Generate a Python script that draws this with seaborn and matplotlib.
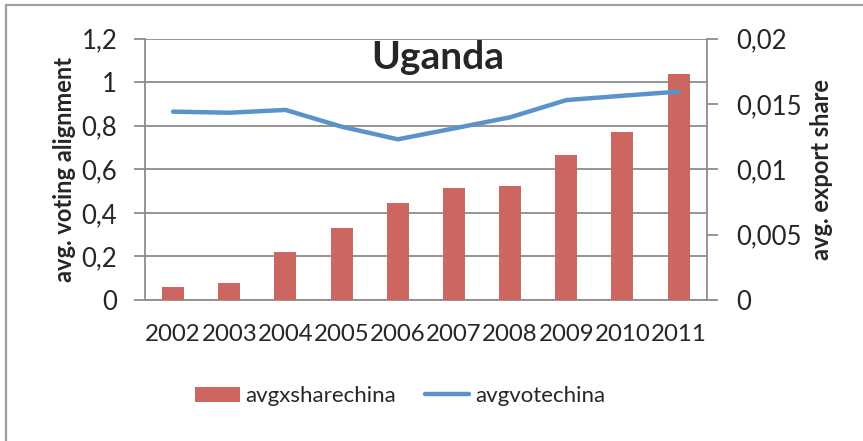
import numpy as np
import pandas as pd
import matplotlib
matplotlib.use("Agg")
import matplotlib.pyplot as plt
import seaborn as sns
from matplotlib.patches import Patch
from matplotlib.lines import Line2D

# values
years = ["2002", "2003", "2004", "2005", "2006", "2007", "2008", "2009", "2010", "2011"]
avgxsharechina = [0.00102, 0.0013, 0.00365, 0.00551, 0.00745, 0.0086, 0.00875, 0.01107, 0.01283, 0.01732]
avgvotechina = [0.865, 0.860, 0.873, 0.796, 0.738, 0.788, 0.839, 0.918, 0.938, 0.957]

left_ticks = [0, 0.2, 0.4, 0.6, 0.8, 1, 1.2]
right_ticks = [0, 0.005, 0.01, 0.015, 0.02]

bar_color = "#CC6660"
line_color = "#5A93CC"
grid_color = "#8C8C8C"

sns.set_style("white")
plt.rcParams["font.family"] = ["Lato", "DejaVu Sans"]

df = pd.DataFrame({"year": years, "xshare": avgxsharechina, "vote": avgvotechina})
df["pos"] = np.arange(len(years))

fig = plt.figure(figsize=(8.63, 4.41), dpi=100)
ax = fig.add_axes([145 / 863, 1 - 300 / 441, (706.7 - 145) / 863, (300 - 38.7) / 441])
ax2 = ax.twinx()
ax3 = ax.twinx()

# left scale: gridlines + ticks
ax.set_ylim(0, 1.2)
ax.set_yticks(left_ticks)
ax.set_yticklabels(["0", "0,2", "0,4", "0,6", "0,8", "1", "1,2"])
ax.yaxis.grid(True, color=grid_color, linewidth=1.3)
ax.set_axisbelow(True)

# bars on the right scale
sns.barplot(data=df, x="pos", y="xshare", ax=ax2, color=bar_color, width=0.39,
            native_scale=True, saturation=1, linewidth=0)
ax2.set_ylim(0, 0.02)
ax2.set_yticks(right_ticks)
ax2.set_yticklabels(["0", "0,005", "0,01", "0,015", "0,02"])

# line on the left scale
sns.lineplot(data=df, x="pos", y="vote", ax=ax3, color=line_color, linewidth=3.2,
             solid_capstyle="round")
ax3.set_ylim(0, 1.2)
ax3.set_yticks([])

for a in (ax, ax2, ax3):
    a.set_xlim(-0.5, len(years) - 0.5)
    a.set_xlabel("")
    for s in a.spines.values():
        s.set_visible(False)
for a in (ax2, ax3):
    a.patch.set_visible(False)
    a.set_ylabel("")

for a, side in ((ax, "left"), (ax, "bottom"), (ax2, "right")):
    a.spines[side].set_visible(True)
    a.spines[side].set_color(grid_color)
    a.spines[side].set_linewidth(1.3)

# x axis: tick marks between categories, labels centered
ax.set_xticks(np.arange(-0.5, len(years), 1))
ax.set_xticklabels([])
ax.set_xticks(np.arange(len(years)), minor=True)
ax.set_xticklabels(years, minor=True)
ax.tick_params(axis="x", which="major", length=6, width=1.3, color=grid_color, direction="out")
ax.tick_params(axis="x", which="minor", length=0, pad=17, labelsize=17.3)
ax2.set_xticks([])
ax3.set_xticks([])

ax.tick_params(axis="y", length=8, width=1.3, color=grid_color, direction="out", pad=12, labelsize=18.5)
ax2.tick_params(axis="y", length=8, width=1.3, color=grid_color, direction="out", pad=13, labelsize=18.5)

fig.text(65 / 863, 1 - 169 / 441, "avg. voting alignment", rotation=90, ha="center", va="center",
         fontsize=17, fontweight="bold")
fig.text(821 / 863, 1 - 169 / 441, "avg. export share", rotation=90, ha="center", va="center",
         fontsize=17, fontweight="bold")
fig.text(438 / 863, 1 - 69 / 441, "Uganda", ha="center", va="baseline", fontsize=28, fontweight="bold")

handles = [Patch(facecolor=bar_color, edgecolor="none"),
           Line2D([0], [0], color=line_color, linewidth=3.2, solid_capstyle="round")]
fig.legend(handles, ["avgxsharechina", "avgvotechina"], loc="center", ncol=2,
           bbox_to_anchor=(400 / 863, 1 - 396 / 441), frameon=False, fontsize=16,
           handlelength=2.0, handleheight=0.65, handletextpad=0.25, columnspacing=1.3)

# outer chart border (left and top only visible)
fig.add_artist(Line2D([5.5 / 863, 5.5 / 863], [0, 1 - 4.5 / 441], transform=fig.transFigure,
                      color="#A0A0A0", linewidth=1.6))
fig.add_artist(Line2D([5.5 / 863, 1], [1 - 4.5 / 441, 1 - 4.5 / 441], transform=fig.transFigure,
                      color="#A0A0A0", linewidth=1.6))

fig.savefig("out.png", dpi=100)
